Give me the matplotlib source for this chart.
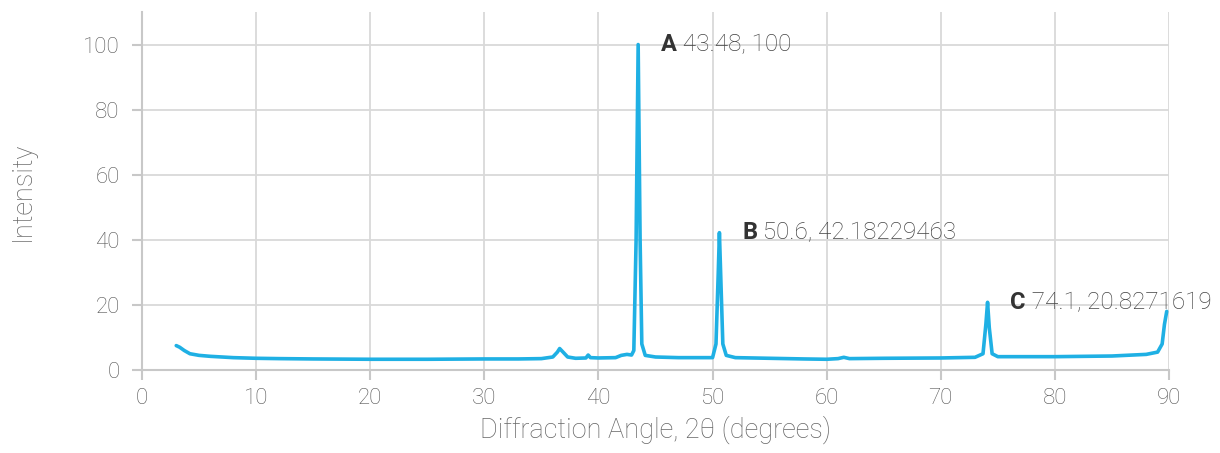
import matplotlib.pyplot as plt

plt.rcParams['font.family'] = ['Roboto', 'DejaVu Sans']

# XRD pattern
two_theta = [3.0, 3.3, 3.7, 4.2, 5.0, 6.0, 7.0, 8.0, 10.0, 12.0, 15.0, 20.0, 25.0,
             30.0, 33.0, 35.0, 36.0, 36.4, 36.6, 36.9, 37.3, 38.0, 38.9, 39.1,
             39.3, 40.0, 41.5, 42.0, 42.5, 42.9, 43.1, 43.3, 43.48, 43.65, 43.8,
             44.1, 45.0, 47.0, 50.0, 50.3, 50.5, 50.6, 50.75, 50.9, 51.2, 52.0,
             55.0, 58.0, 60.0, 61.0, 61.5, 62.0, 65.0, 70.0, 73.0, 73.7, 73.95,
             74.1, 74.25, 74.5, 75.0, 80.0, 85.0, 88.0, 89.0, 89.4, 89.6, 89.8]
intensity = [7.5, 7.0, 6.0, 5.0, 4.5, 4.2, 4.0, 3.8, 3.6, 3.5, 3.4, 3.3, 3.3,
             3.4, 3.4, 3.5, 4.0, 5.5, 6.6, 5.5, 4.0, 3.6, 3.7, 4.6,
             3.8, 3.7, 3.8, 4.5, 4.8, 4.6, 6.0, 40.0, 100.0, 40.0, 8.0,
             4.5, 4.0, 3.8, 3.8, 8.0, 30.0, 42.2, 25.0, 8.0, 4.5, 3.8,
             3.6, 3.4, 3.3, 3.5, 3.9, 3.5, 3.6, 3.7, 3.9, 5.0, 14.0,
             20.8, 13.0, 5.0, 4.1, 4.1, 4.3, 4.8, 5.5, 8.0, 14.0, 18.0]

peak_letters = ['A', 'B', 'C']
peak_x = [43.48, 50.6, 74.1]
peak_y = [100, 42.18229463, 20.8271619]
peak_labels = ['43.48, 100', '50.6, 42.18229463', '74.1, 20.8271619']

fig = plt.figure(figsize=(12.2, 4.53), dpi=100)
ax = fig.add_axes([0.1164, 0.1832, 0.8418, 0.7903])

ax.plot(two_theta, intensity, color='#1fb0e4', linewidth=2.6,
        solid_joinstyle='round', solid_capstyle='round')

for letter, px, py, lab in zip(peak_letters, peak_x, peak_y, peak_labels):
    t = ax.text(px + 2.0, py, letter, fontsize=17, fontweight='bold',
                color='#333333', va='center', ha='left')
    ax.annotate(' ' + lab, xy=(1, 0), xycoords=t, va='bottom', ha='left',
                fontsize=17.5, fontweight='light', color='#444444')

ax.set_xlim(0, 90)
ax.set_ylim(0, 110)
ax.set_xticks(range(0, 91, 10))
ax.set_yticks(range(0, 101, 20))
ax.grid(True, color='#d9d9d9', linewidth=1.3)
ax.set_axisbelow(True)
for s in ['top', 'right']:
    ax.spines[s].set_visible(False)
for s in ['left', 'bottom']:
    ax.spines[s].set_color('#c8c8c8')
    ax.spines[s].set_linewidth(1.5)
ax.tick_params(axis='both', colors='#c8c8c8', width=1.5, length=7,
               labelsize=16, labelcolor='#555555')
ax.tick_params(axis='y', pad=9)
ax.tick_params(axis='x', pad=6)
for lbl in ax.get_xticklabels() + ax.get_yticklabels():
    lbl.set_fontweight('light')

ax.set_xlabel('Diffraction Angle, 2θ (degrees)', fontsize=19.5, fontweight='light',
              color='#666666', labelpad=5)
ax.set_ylabel('Intensity', fontsize=19.5, fontweight='light', color='#666666', labelpad=34)

fig.savefig('out.png', dpi=100)
